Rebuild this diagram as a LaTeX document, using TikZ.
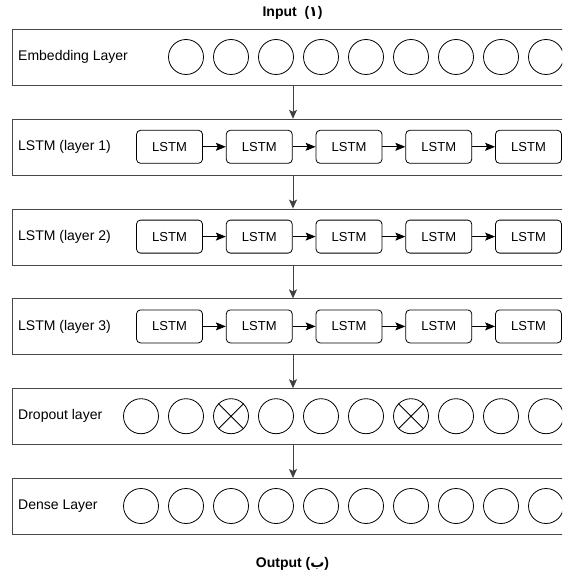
\documentclass[tikz,border=0pt]{standalone}
\usepackage{fontspec}
\setmainfont{Liberation Sans}
\newfontfamily\arabicfont[Script=Arabic]{DejaVu Sans}
\TeXXeTstate=1
\usetikzlibrary{arrows.meta}
\tikzset{
  layerbox/.style={draw=black!72, line width=1pt, minimum width=560pt, minimum height=56pt, anchor=north west, inner sep=0pt},
  unit/.style={circle, draw=black, line width=0.8pt, minimum size=35pt, inner sep=0pt},
  lstmbox/.style={draw=black, line width=0.8pt, rounded corners=4pt, minimum width=66pt, minimum height=33pt, inner sep=0pt, font=\fontsize{13}{15}\selectfont},
  layerlabel/.style={anchor=west, inner sep=0pt, font=\fontsize{14}{16}\selectfont},
  titletext/.style={font=\bfseries\fontsize{14}{16}\selectfont},
  varr/.style={draw=black!75, line width=1pt, -{Stealth[length=9pt,width=8pt,inset=2pt]}},
  harr/.style={draw=black, line width=0.9pt, -{Stealth[length=10pt,width=8pt,inset=2pt]}},
}
\begin{document}
\begin{tikzpicture}[x=1pt,y=-1pt]
\useasboundingbox (0,0) rectangle (562,577);
\clip (0,0) rectangle (562,577);

% titles
\node[titletext] (input) at (292.5,13) {Input\ \ ({\arabicfont ١})};
\node[titletext] (output) at (292.5,564) {Output ({\arabicfont\beginR ب\endR})};

% layer boxes
\node[layerbox] (r1) at (12,29) {};
\node[layerbox] (r2) at (12,118.8) {};
\node[layerbox] (r3) at (12,208.6) {};
\node[layerbox] (r4) at (12,298.4) {};
\node[layerbox] (r5) at (12,388.2) {};
\node[layerbox] (r6) at (12,478) {};

% labels
\node[layerlabel] (t1) at (18,57) {Embedding Layer};
\node[layerlabel] (t2) at (18,146.8) {LSTM (layer 1)};
\node[layerlabel] (t3) at (18,236.6) {LSTM (layer 2)};
\node[layerlabel] (t4) at (18,326.4) {LSTM (layer 3)};
\node[layerlabel] (t5) at (18,416.2) {Dropout layer};
\node[layerlabel] (t6) at (18,506) {Dense Layer};

% embedding units
\foreach \k in {0,...,8}{
  \node[unit] (e\k) at ({186+45*\k},57) {};
}
% dropout units
\foreach \k in {0,...,9}{
  \node[unit] (d\k) at ({141+45*\k},416.2) {};
}
\draw[line width=0.8pt] (d2.45) -- (d2.225) (d2.135) -- (d2.315);
\draw[line width=0.8pt] (d6.45) -- (d6.225) (d6.135) -- (d6.315);
% dense units
\foreach \k in {0,...,9}{
  \node[unit] (n\k) at ({141+45*\k},506) {};
}

% LSTM rows
\foreach \r/\y in {a/146.8,b/236.6,c/326.4}{
  \foreach \k in {0,...,4}{
    \node[lstmbox] (\r\k) at ({169.5+89.75*\k},\y) {LSTM};
  }
  \foreach \k [evaluate=\k as \j using int(\k+1)] in {0,...,3}{
    \draw[harr] (\r\k.east) -- (\r\j.west);
  }
}

% vertical arrows
\coordinate (ax) at (293,0);
\draw[varr] (r1.south -| ax) -- (r2.north -| ax);
\draw[varr] (r2.south -| ax) -- (r3.north -| ax);
\draw[varr] (r3.south -| ax) -- (r4.north -| ax);
\draw[varr] (r4.south -| ax) -- (r5.north -| ax);
\draw[varr] (r5.south -| ax) -- (r6.north -| ax);
\end{tikzpicture}
\end{document}
